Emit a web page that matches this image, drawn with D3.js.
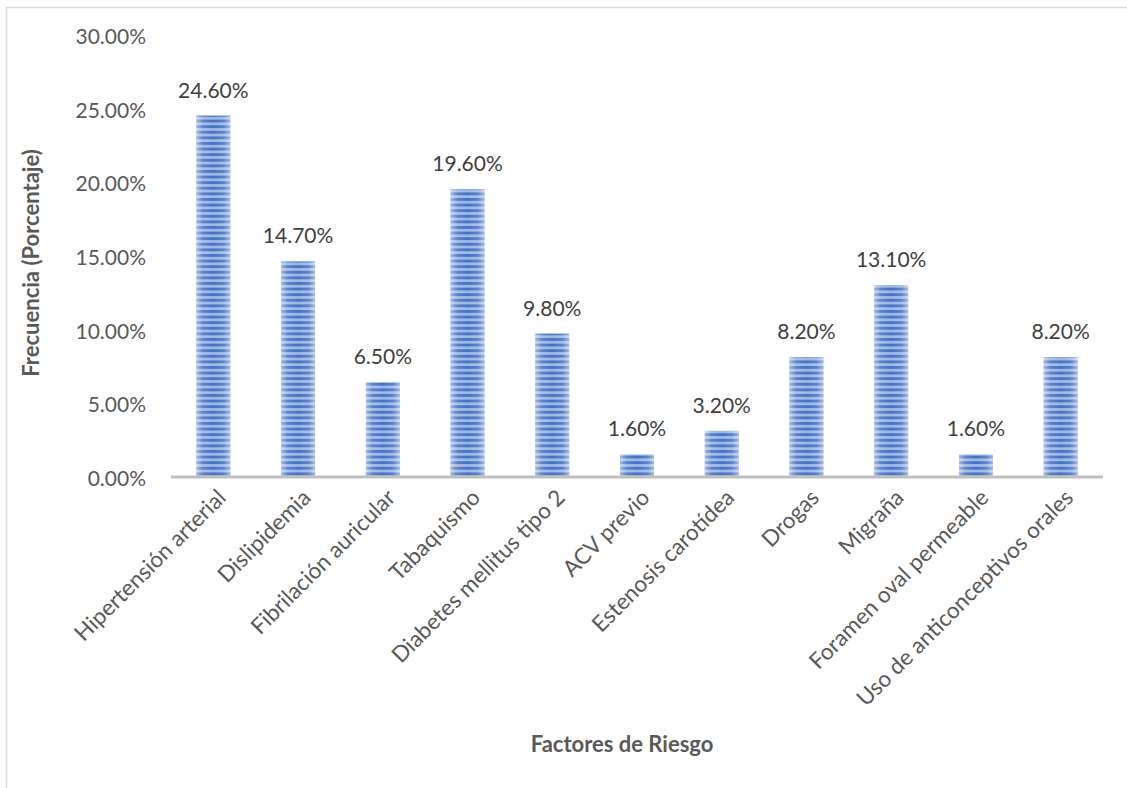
<!DOCTYPE html>
<html><head><meta charset="utf-8">
<script src="https://cdn.jsdelivr.net/npm/d3@7"></script>
<style>body{margin:0;background:#fff}svg{display:block}text{font-family:Lato,"Open Sans",sans-serif}</style>
</head><body><svg id="c" width="1127" height="788"></svg>
<script>
const categories = ["Hipertensión arterial","Dislipidemia","Fibrilación auricular","Tabaquismo","Diabetes mellitus tipo 2","ACV previo","Estenosis carotídea","Drogas","Migraña","Foramen oval permeable","Uso de anticonceptivos orales"];
const values = [24.6,14.7,6.5,19.6,9.8,1.6,3.2,8.2,13.1,1.6,8.2];
const yTicks = [0,5,10,15,20,25,30];
const yTitle = "Frecuencia (Porcentaje)";
const xTitle = "Factores de Riesgo";

const svg = d3.select("#c");
svg.append("rect").attr("x",6.5).attr("y",7.5).attr("width",1130).attr("height",800)
  .attr("fill","#fff").attr("stroke","#d9d9d9").attr("stroke-width",1.5);

const defs = svg.append("defs");
const grad = defs.append("linearGradient").attr("id","hg").attr("x1","0").attr("x2","1").attr("y1","0").attr("y2","0");
grad.append("stop").attr("offset","0").attr("stop-color","#fff").attr("stop-opacity",0.5);
grad.append("stop").attr("offset","0.2").attr("stop-color","#fff").attr("stop-opacity",0.12);
grad.append("stop").attr("offset","0.5").attr("stop-color","#fff").attr("stop-opacity",0);
grad.append("stop").attr("offset","0.8").attr("stop-color","#fff").attr("stop-opacity",0.12);
grad.append("stop").attr("offset","1").attr("stop-color","#fff").attr("stop-opacity",0.5);
const pat = defs.append("pattern").attr("id","stripes").attr("patternUnits","userSpaceOnUse")
  .attr("width",10).attr("height",5.6).attr("y",478);
pat.append("rect").attr("width",10).attr("height",5.6).attr("fill","#9fb8e4");
pat.append("rect").attr("y",0).attr("width",10).attr("height",2.9).attr("fill","#4472c4");

const x = d3.scaleBand().domain(categories).range([171,1103]).paddingInner(0.6).paddingOuter(0.3);
const y = d3.scaleLinear().domain([0,30]).range([478,36]);

const g = svg.append("g");
const bars = g.selectAll("g.bar").data(categories).join("g");
bars.append("rect").attr("x",d=>x(d)).attr("width",x.bandwidth())
  .attr("y",(d,i)=>y(values[i])).attr("height",(d,i)=>y(0)-y(values[i])).attr("fill","url(#stripes)");
bars.append("rect").attr("x",d=>x(d)).attr("width",x.bandwidth())
  .attr("y",(d,i)=>y(values[i])).attr("height",(d,i)=>y(0)-y(values[i])).attr("fill","url(#hg)");
bars.append("text").attr("x",d=>x(d)+x.bandwidth()/2).attr("y",(d,i)=>y(values[i])-18)
  .attr("text-anchor","middle").attr("font-size",21).attr("fill","#404040")
  .text((d,i)=>values[i].toFixed(2)+"%");

// x axis line
svg.append("line").attr("x1",171).attr("x2",1103).attr("y1",477).attr("y2",477)
  .attr("stroke","#bfbfbf").attr("stroke-width",3);

// y tick labels
const yAxis = d3.axisLeft(y).tickValues(yTicks).tickSize(0).tickFormat(d=>d.toFixed(2)+"%");
const ya = svg.append("g").attr("transform","translate(149,0)").call(yAxis);
ya.select(".domain").remove();
ya.selectAll("text").attr("font-size",21).attr("fill","#595959").attr("font-family","Lato,'Open Sans',sans-serif").attr("dy","0.35em");

// x category labels
const xAxis = d3.axisBottom(x).tickSize(0);
const xa = svg.append("g").attr("transform","translate(0,478)").call(xAxis);
xa.select(".domain").remove();
xa.selectAll("text").attr("font-size",22.5).attr("fill","#595959").attr("font-family","Lato,'Open Sans',sans-serif")
  .attr("text-anchor","end").attr("dy","0").attr("y",0)
  .attr("transform","translate(14,21) rotate(-45)");

svg.append("text").attr("transform","translate(39,263) rotate(-90)").attr("text-anchor","middle")
  .attr("font-size",22).attr("font-weight","bold").attr("fill","#595959").text(yTitle);
svg.append("text").attr("x",622).attr("y",752).attr("text-anchor","middle")
  .attr("font-size",22).attr("font-weight","bold").attr("fill","#595959").text(xTitle);
</script></body></html>
